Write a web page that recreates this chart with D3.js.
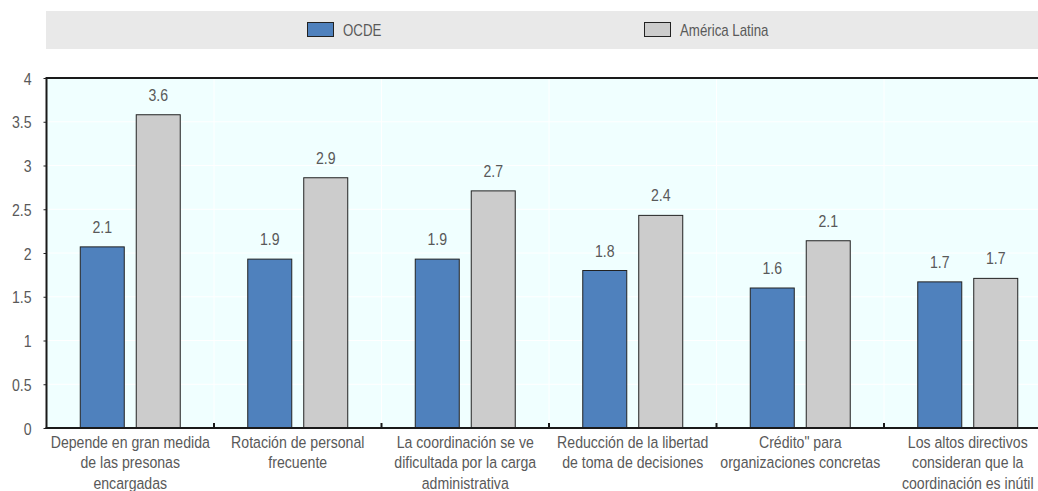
<!DOCTYPE html>
<html><head><meta charset="utf-8">
<script src="https://cdn.jsdelivr.net/npm/d3@7"></script>
<style>
html,body{margin:0;padding:0;background:#fff;}
svg text{font-family:"Liberation Sans Narrow","Arial Narrow","Liberation Sans",Arial,sans-serif;fill:#595959;}
</style></head>
<body>
<svg id="chart" width="1038" height="491"></svg>
<script>
const categories = [
  "Depende en gran medida\nde las presonas\nencargadas",
  "Rotación de personal\nfrecuente",
  "La coordinación se ve\ndificultada por la carga\nadministrativa",
  "Reducción de la libertad\nde toma de decisiones",
  "Crédito\" para\norganizaciones concretas",
  "Los altos directivos\nconsideran que la\ncoordinación es inútil"
];
const seriesNames = ["OCDE", "América Latina"];
const ocde = [2.07, 1.93, 1.93, 1.80, 1.60, 1.67];
const americaLatina = [3.58, 2.86, 2.71, 2.43, 2.14, 1.71];
const yTicks = [0, 0.5, 1, 1.5, 2, 2.5, 3, 3.5, 4];
const colors = ["#4f81bd", "#cccccc"];

const SX = 0.83; // horizontal condensing to mimic a narrow font
function condense(sel) {
  sel.each(function() {
    const t = d3.select(this);
    const x0 = +t.attr("x") || 0, y0 = +t.attr("y") || 0;
    t.attr("x", 0).attr("y", 0).attr("transform", `translate(${x0},${y0}) scale(${SX},1)`);
    t.selectAll("tspan").attr("x", 0);
  });
}

const svg = d3.select("#chart");
const pL = 46.5, pR = 1051.5, pT = 78, pB = 428;

const x = d3.scaleBand().domain(categories).range([pL, pR]).paddingInner(0).paddingOuter(0);
const xs = d3.scaleBand().domain(seriesNames).range([0, x.bandwidth()]).paddingInner(0.214).paddingOuter(0.603);
const y = d3.scaleLinear().domain([0, 4]).range([pB, pT]);

// Legend
svg.append("rect").attr("x", 46).attr("y", 11).attr("width", 1038 - 46).attr("height", 38).attr("fill", "#e9e9e9");
const legX = [307, 644];
seriesNames.forEach((s, i) => {
  svg.append("rect").attr("x", legX[i] + 0.5).attr("y", 22.5).attr("width", 26).attr("height", 14)
    .attr("fill", colors[i]).attr("stroke", "#222").attr("stroke-width", 1);
  svg.append("text").attr("x", legX[i] + 36).attr("y", 36).attr("font-size", 16).text(s).call(condense);
});

// Plot background
svg.append("rect").attr("x", pL).attr("y", pT).attr("width", pR - pL).attr("height", pB - pT).attr("fill", "#f0ffff");

// Grid
svg.append("g").selectAll("line").data(yTicks).join("line")
  .attr("x1", pL).attr("x2", pR).attr("y1", d => y(d)).attr("y2", d => y(d))
  .attr("stroke", "#ffffff").attr("stroke-width", 1);
svg.append("g").selectAll("line").data(categories.slice(1)).join("line")
  .attr("x1", d => x(d)).attr("x2", d => x(d)).attr("y1", pT).attr("y2", pB)
  .attr("stroke", "#ffffff").attr("stroke-width", 1);

// Bars
const data = categories.map((c, i) => ({c, vals: [ocde[i], americaLatina[i]]}));
const g = svg.append("g").selectAll("g").data(data).join("g").attr("transform", d => `translate(${x(d.c)},0)`);
g.selectAll("rect").data(d => d.vals.map((v, j) => ({v, s: seriesNames[j], j}))).join("rect")
  .attr("x", d => xs(d.s)).attr("width", xs.bandwidth())
  .attr("y", d => y(d.v)).attr("height", d => y(0) - y(d.v))
  .attr("fill", d => colors[d.j]).attr("stroke", "#222").attr("stroke-width", 1);
g.selectAll("text").data(d => d.vals.map((v, j) => ({v, s: seriesNames[j]}))).join("text")
  .attr("x", d => xs(d.s) + xs.bandwidth() / 2).attr("y", d => y(d.v) - 14)
  .attr("text-anchor", "middle").attr("font-size", 17).text(d => d3.format(".1f")(d.v))
  .call(condense);

// Y axis
const yAxis = d3.axisLeft(y).tickValues(yTicks).tickSize(3).tickPadding(12).tickFormat(d => d3.format("")(d));
const ya = svg.append("g").attr("transform", `translate(${pL},0)`).call(yAxis);
ya.select(".domain").remove();
ya.selectAll("line").attr("stroke", "#222");
ya.selectAll("text").attr("font-size", 17).style("fill", "#595959")
  .attr("dy", null).attr("dominant-baseline", null)
  .each(function() {
    const t = d3.select(this);
    t.attr("transform", `translate(${+t.attr("x")},6) scale(${SX},1)`).attr("x", 0);
  });

// Frame lines
svg.append("line").attr("x1", pL).attr("x2", pR).attr("y1", pT).attr("y2", pT).attr("stroke", "#1a1a1a").attr("stroke-width", 2);
svg.append("line").attr("x1", pL).attr("x2", pL).attr("y1", pT - 1).attr("y2", pB + 1).attr("stroke", "#1a1a1a").attr("stroke-width", 2);

// X axis
const xAxis = d3.axisBottom(x).tickSize(0).tickPadding(0);
const xa = svg.append("g").attr("transform", `translate(0,${pB})`).call(xAxis);
xa.select(".domain").remove();
xa.selectAll("text").remove();
svg.append("line").attr("x1", pL - 1).attr("x2", pR).attr("y1", pB).attr("y2", pB).attr("stroke", "#1a1a1a").attr("stroke-width", 2);
svg.append("g").selectAll("line").data(categories.slice(1)).join("line")
  .attr("x1", d => x(d)).attr("x2", d => x(d)).attr("y1", pB - 5).attr("y2", pB)
  .attr("stroke", "#1a1a1a").attr("stroke-width", 2);
const labels = svg.append("g").selectAll("text").data(categories).join("text")
  .attr("x", d => x(d) + x.bandwidth() / 2).attr("y", 448).attr("text-anchor", "middle").attr("font-size", 17);
labels.each(function(d) {
  const t = d3.select(this);
  d.split("\n").forEach((line, i) => {
    t.append("tspan").attr("x", x(d) + x.bandwidth() / 2).attr("dy", i === 0 ? 0 : 20.5).text(line);
  });
});
labels.call(condense);
</script>
</body></html>
